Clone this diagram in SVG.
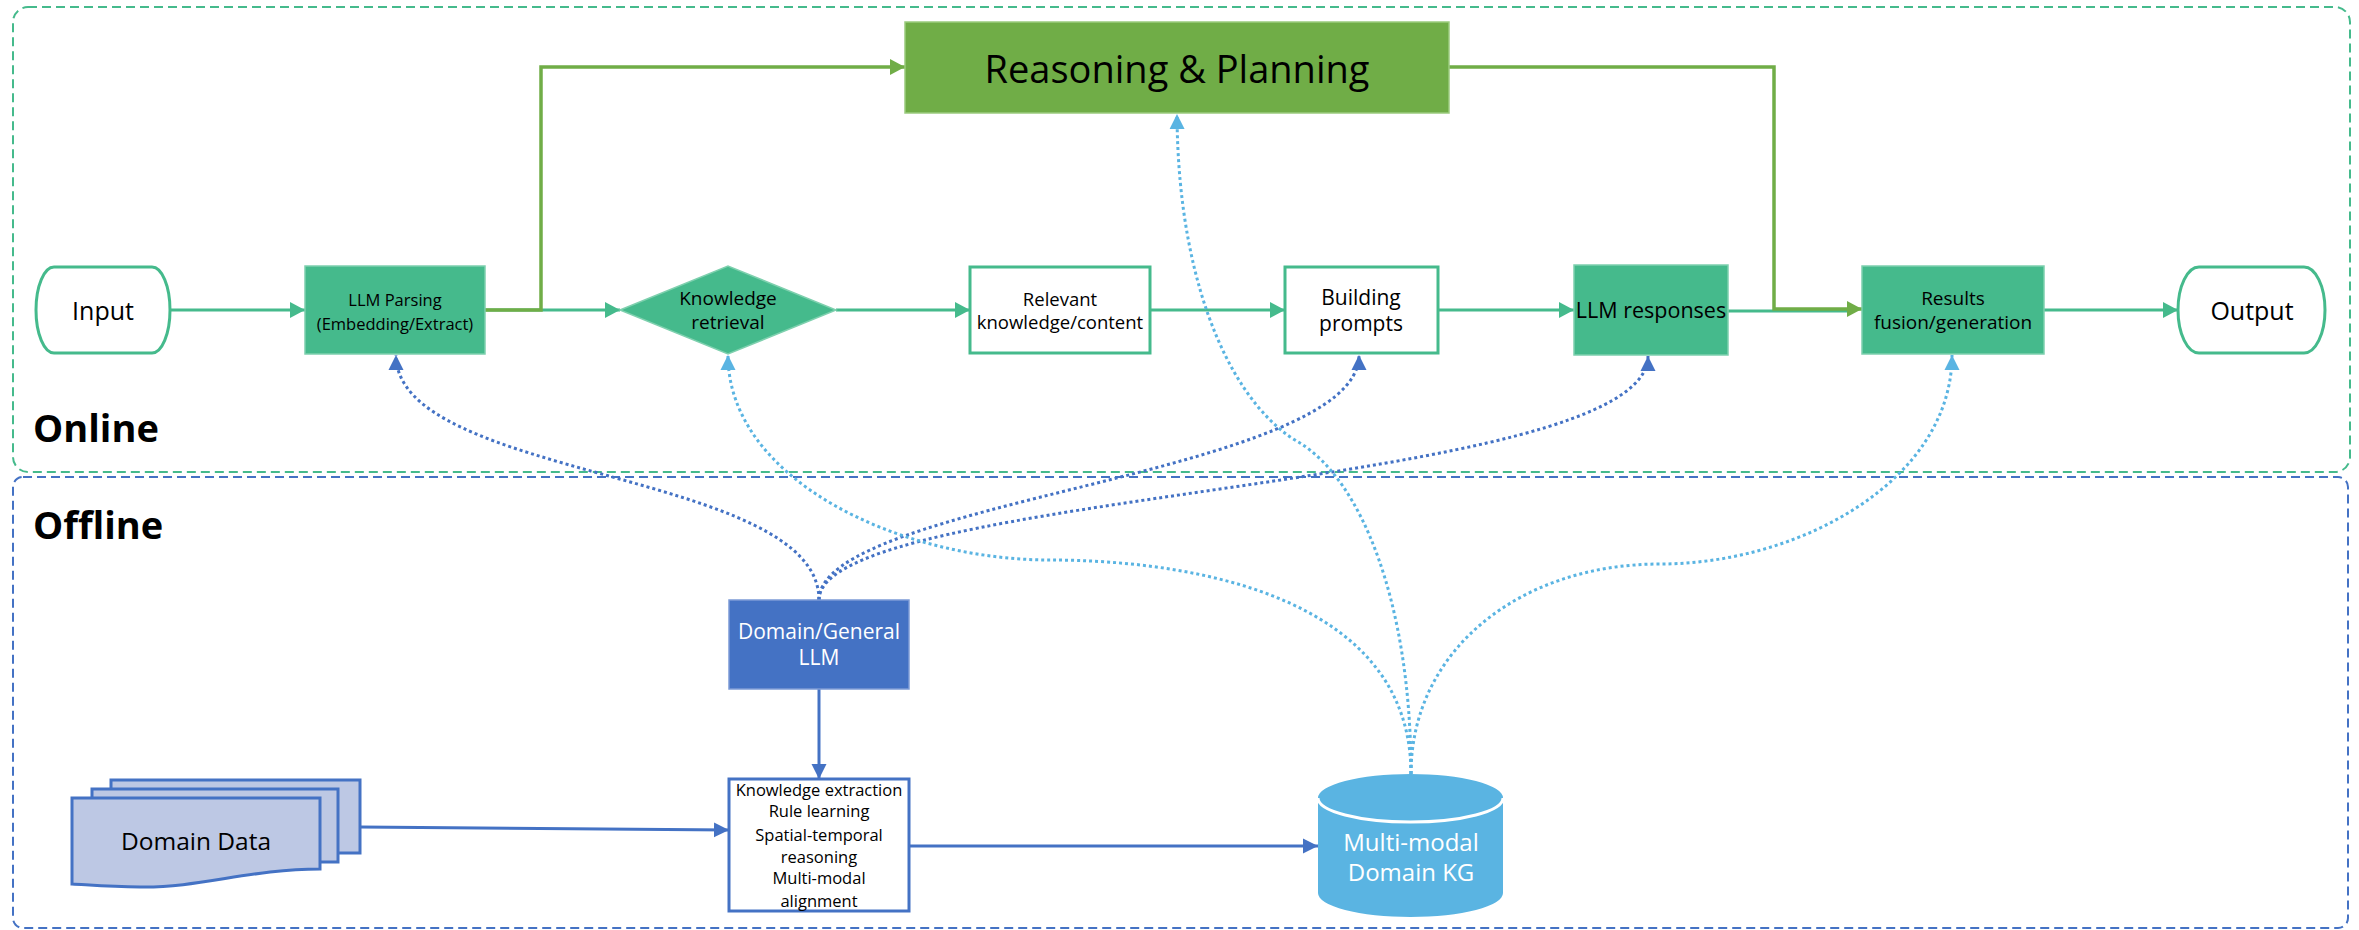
<svg xmlns="http://www.w3.org/2000/svg" width="2359" height="930" viewBox="0 0 2359 930">
  <style>
    text { font-family: "Open Sans", "Noto Sans", "Liberation Sans", sans-serif; fill: #000; text-anchor: middle; }
    .title { font-weight: bold; font-size: 38px; text-anchor: start; }
    .white { fill: #fff; }
    .teal-fill { fill: #45BA8C; stroke: #7ED0AE; stroke-width: 1.5; }
    .teal-box { fill: #fff; stroke: #45BA8C; stroke-width: 3; }
    .flow { fill: none; stroke: #45BA8C; stroke-width: 3; }
    .olive { fill: none; stroke: #70AD47; stroke-width: 3.5; }
    .blue { fill: none; stroke: #4472C4; stroke-width: 3; }
    .blue-dot { fill: none; stroke: #4472C4; stroke-width: 3; stroke-dasharray: 3 3; }
    .sky-dot { fill: none; stroke: #5AB4E2; stroke-width: 3; stroke-dasharray: 3 3; }
  </style>
  <defs>
    <marker id="arrTeal" markerUnits="userSpaceOnUse" markerWidth="16" markerHeight="16" refX="15" refY="8" orient="auto">
      <path d="M0,0 L15,8 L0,16 Z" fill="#45BA8C"/>
    </marker>
    <marker id="arrOlive" markerUnits="userSpaceOnUse" markerWidth="16" markerHeight="16" refX="15" refY="8" orient="auto">
      <path d="M0,0 L15,8 L0,16 Z" fill="#70AD47"/>
    </marker>
    <marker id="arrBlue" markerUnits="userSpaceOnUse" markerWidth="16" markerHeight="16" refX="15" refY="8" orient="auto">
      <path d="M0,0.5 L15,8 L0,15.5 Z" fill="#4472C4"/>
    </marker>
    <marker id="arrSky" markerUnits="userSpaceOnUse" markerWidth="16" markerHeight="16" refX="15" refY="8" orient="auto">
      <path d="M0,0.5 L15,8 L0,15.5 Z" fill="#5AB4E2"/>
    </marker>
  </defs>

  <rect width="2359" height="930" fill="#fff"/>

  <!-- stage frames -->
  <g id="online-frame">
    <rect x="13" y="7" width="2337" height="465" rx="15" ry="15" fill="none" stroke="#45BA8C" stroke-width="2" stroke-dasharray="9 5"/>
    <text class="title" x="33" y="442">Online</text>
  </g>
  <g id="offline-frame">
    <rect x="13" y="477" width="2335" height="451" rx="10" ry="10" fill="none" stroke="#4472C4" stroke-width="2" stroke-dasharray="9 5"/>
    <text class="title" x="33" y="539">Offline</text>
  </g>

  <!-- connectors -->
  <g id="connectors">
    <!-- main online flow -->
    <line class="flow" x1="170" y1="310" x2="305" y2="310" marker-end="url(#arrTeal)"/>
    <line class="flow" x1="485" y1="310" x2="620" y2="310" marker-end="url(#arrTeal)"/>
    <line class="flow" x1="836" y1="310" x2="970" y2="310" marker-end="url(#arrTeal)"/>
    <line class="flow" x1="1150" y1="310" x2="1285" y2="310" marker-end="url(#arrTeal)"/>
    <line class="flow" x1="1438" y1="310" x2="1574" y2="310" marker-end="url(#arrTeal)"/>
    <line class="flow" x1="1728" y1="311" x2="1850" y2="311"/>
    <line class="flow" x1="2044" y1="310" x2="2178" y2="310" marker-end="url(#arrTeal)"/>
    <!-- reasoning branch -->
    <path class="olive" d="M485,310 H541 V67 H905" marker-end="url(#arrOlive)"/>
    <path class="olive" d="M1449,67 H1774 V309 H1862" marker-end="url(#arrOlive)"/>
    <!-- offline pipeline -->
    <line class="blue" x1="360" y1="827" x2="729" y2="830" marker-end="url(#arrBlue)"/>
    <line class="blue" x1="819" y1="689" x2="819" y2="779" marker-end="url(#arrBlue)"/>
    <line class="blue" x1="909" y1="846" x2="1318" y2="846" marker-end="url(#arrBlue)"/>
    <!-- LLM support links -->
    <path class="blue-dot" d="M819,600 C819,470 396,480 396,355" marker-end="url(#arrBlue)"/>
    <path class="blue-dot" d="M819,600 C819,500 1359,475 1359,355" marker-end="url(#arrBlue)"/>
    <path class="blue-dot" d="M819,600 C819,490 1648,490 1648,356" marker-end="url(#arrBlue)"/>
    <!-- knowledge graph support links -->
    <path class="sky-dot" d="M1411,774 C1411,600 1200,560 1050,560 C900,560 728,480 728,355" marker-end="url(#arrSky)"/>
    <path class="sky-dot" d="M1411,774 C1411,600 1360,480 1300,443 C1240,410 1178,300 1177,114" marker-end="url(#arrSky)"/>
    <path class="sky-dot" d="M1411,774 C1411,650 1520,564 1660,564 C1800,564 1952,480 1952,355" marker-end="url(#arrSky)"/>
  </g>

  <!-- online nodes -->
  <g id="input">
    <rect x="36" y="267" width="134" height="86" rx="18" ry="43" fill="#fff" stroke="#45BA8C" stroke-width="3"/>
    <text x="103" y="320" font-size="25">Input</text>
  </g>
  <g id="llm-parsing">
    <rect class="teal-fill" x="305" y="266" width="180" height="88"/>
    <text x="395" y="306" font-size="16.5">LLM Parsing</text>
    <text x="395" y="330" font-size="16.5">(Embedding/Extract)</text>
  </g>
  <g id="knowledge-retrieval">
    <polygon class="teal-fill" points="620,310 728,266 836,310 728,354"/>
    <text x="728" y="305" font-size="19">Knowledge</text>
    <text x="728" y="329" font-size="19">retrieval</text>
  </g>
  <g id="relevant-knowledge">
    <rect class="teal-box" x="970" y="267" width="180" height="86"/>
    <text x="1060" y="306" font-size="18.5">Relevant</text>
    <text x="1060" y="329" font-size="18.5">knowledge/content</text>
  </g>
  <g id="building-prompts">
    <rect class="teal-box" x="1285" y="267" width="153" height="86"/>
    <text x="1361" y="305" font-size="21">Building</text>
    <text x="1361" y="331" font-size="21">prompts</text>
  </g>
  <g id="llm-responses">
    <rect class="teal-fill" x="1574" y="265" width="154" height="90"/>
    <text x="1651" y="318" font-size="21.5">LLM responses</text>
  </g>
  <g id="results-fusion">
    <rect class="teal-fill" x="1862" y="266" width="182" height="88"/>
    <text x="1953" y="305" font-size="19">Results</text>
    <text x="1953" y="329" font-size="19">fusion/generation</text>
  </g>
  <g id="output">
    <rect x="2178" y="267" width="147" height="86" rx="21" ry="43" fill="#fff" stroke="#45BA8C" stroke-width="3"/>
    <text x="2252" y="320" font-size="25">Output</text>
  </g>
  <g id="reasoning-planning">
    <rect x="905" y="22" width="544" height="91" fill="#70AD47" stroke="#9BCB7E" stroke-width="1.5"/>
    <text x="1177" y="83" font-size="38">Reasoning &amp; Planning</text>
  </g>

  <!-- offline nodes -->
  <g id="domain-llm">
    <rect x="729" y="600" width="180" height="89" fill="#4472C4" stroke="#7C9BD6" stroke-width="1.5"/>
    <text class="white" x="819" y="639" font-size="21">Domain/General</text>
    <text class="white" x="819" y="665" font-size="21">LLM</text>
  </g>
  <g id="domain-data">
    <rect x="111" y="780" width="249" height="73" fill="#BDC8E4" stroke="#4472C4" stroke-width="3"/>
    <rect x="92" y="789" width="246" height="73" fill="#BDC8E4" stroke="#4472C4" stroke-width="3"/>
    <path d="M72,798 H320 V869 C250,869 200,888 140,887 C110,887 90,885 72,884 Z" fill="#BDC8E4" stroke="#4472C4" stroke-width="3"/>
    <text x="196" y="850" font-size="24.5">Domain Data</text>
  </g>
  <g id="knowledge-processing">
    <rect x="729" y="779" width="180" height="132" fill="#fff" stroke="#4472C4" stroke-width="3"/>
    <text x="819" y="796" font-size="16.5">Knowledge extraction</text>
    <text x="819" y="817" font-size="16.5">Rule learning</text>
    <text x="819" y="841" font-size="16.5">Spatial-temporal</text>
    <text x="819" y="863" font-size="16.5">reasoning</text>
    <text x="819" y="884" font-size="16.5">Multi-modal</text>
    <text x="819" y="907" font-size="16.5">alignment</text>
  </g>
  <g id="domain-kg">
    <path d="M1318,798 A92.5,24 0 0 1 1503,798 V893 A92.5,24 0 0 1 1318,893 Z" fill="#5AB4E2"/>
    <path d="M1318,798 A92.5,24 0 0 0 1503,798" fill="none" stroke="#fff" stroke-width="3"/>
    <text class="white" x="1411" y="851" font-size="24">Multi-modal</text>
    <text class="white" x="1411" y="881" font-size="24">Domain KG</text>
  </g>
</svg>
